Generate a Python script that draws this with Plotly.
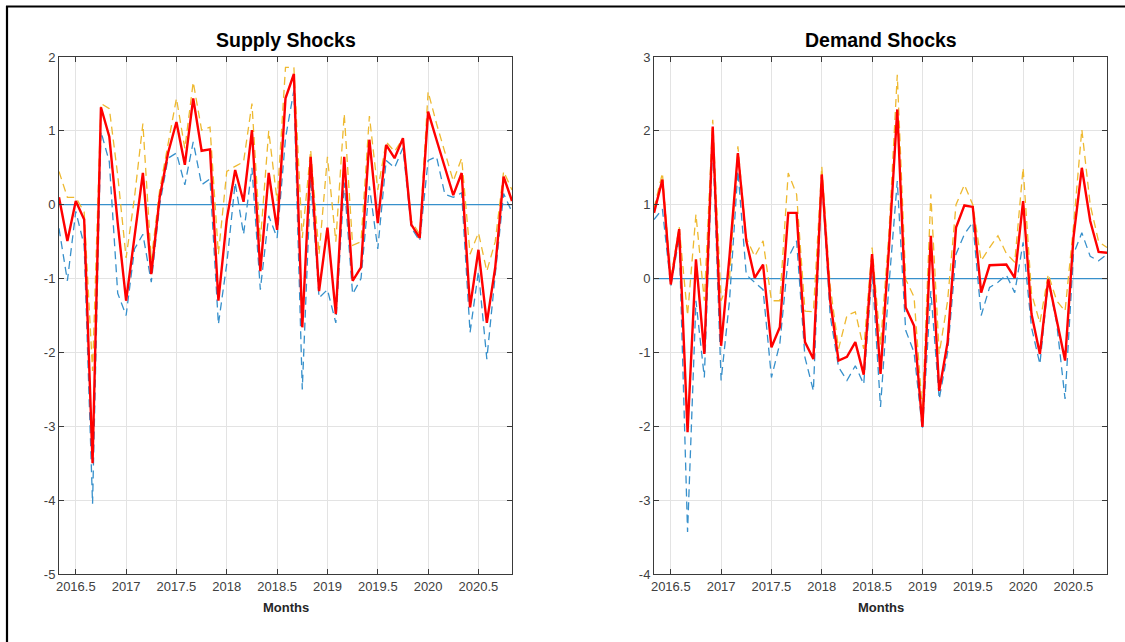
import pandas as pd
import plotly.graph_objects as go

# Monthly sample, May 2016 - Nov 2020, expressed as decimal years
months = pd.date_range("2016-05-01", periods=55, freq="MS")
t = [d.year + (d.month - 1) / 12 for d in months]

# Supply shocks: median estimate with upper / lower bands
supply_median = [0.1, -0.49, 0.05, -0.2, -3.5, 1.32, 0.92, -0.25, -1.3, -0.45,
                 0.43, -0.94, 0.1, 0.7, 1.12, 0.54, 1.44, 0.73, 0.75, -1.3,
                 -0.2, 0.47, 0.04, 1.01, -0.9, 0.43, -0.34, 1.44, 1.77, -1.66,
                 0.65, -1.17, -0.31, -1.48, 0.65, -1.03, -0.85, 0.88, -0.25, 0.81,
                 0.63, 0.9, -0.27, -0.45, 1.26, 0.88, 0.5, 0.13, 0.43, -1.39,
                 -0.61, -1.6, -0.85, 0.38, 0.05]
supply_upper = [0.45, 0.1, 0.1, -0.1, -2.25, 1.37, 1.3, 0.4, -0.72, 0.1,
                1.1, -0.75, 0.2, 0.8, 1.44, 0.76, 1.66, 1.01, 1.05, -0.67,
                0.45, 0.52, 0.58, 1.37, -0.5, 1.0, 0.05, 1.86, 1.86, -0.45,
                0.74, -0.67, 0.65, -0.5, 1.23, -0.55, -0.5, 1.2, 0.2, 0.85,
                0.72, 0.9, -0.22, -0.4, 1.53, 1.1, 0.72, 0.32, 0.63, -0.67,
                -0.38, -0.9, -0.5, 0.45, 0.2]
supply_lower = [-0.32, -1.03, -0.09, -0.55, -4.05, 0.99, 0.58, -1.2, -1.5, -0.6,
                -0.4, -1.05, 0.0, 0.63, 0.7, 0.27, 0.85, 0.27, 0.35, -1.62,
                -0.8, 0.3, -0.4, 0.5, -1.15, -0.15, -0.45, 0.9, 1.55, -2.5,
                0.35, -1.26, -1.15, -1.6, 0.3, -1.21, -1.0, 0.25, -0.6, 0.6,
                0.5, 0.77, -0.31, -0.49, 0.6, 0.65, 0.14, 0.1, 0.16, -1.73,
                -0.9, -2.09, -0.95, 0.15, -0.1]

# Demand shocks: median estimate with upper / lower bands
demand_median = [0.89, 1.34, -0.08, 0.67, -2.08, 0.26, -1.02, 2.06, -0.91, 0.3,
                 1.7, 0.51, 0.01, 0.19, -0.93, -0.66, 0.89, 0.89, -0.86, -1.09,
                 1.41, -0.3, -1.11, -1.06, -0.86, -1.3, 0.33, -1.29, 0.4, 2.29,
                 -0.39, -0.64, -2.01, 0.58, -1.52, -0.86, 0.69, 0.99, 0.97, -0.19,
                 0.18, 0.19, 0.19, 0.01, 1.05, -0.48, -1.02, -0.01, -0.57, -1.11,
                 0.55, 1.5, 0.78, 0.36, 0.35]
demand_upper = [0.95, 1.43, 0.0, 0.7, -0.5, 0.87, -0.3, 2.15, -0.3, 0.0,
                1.79, 0.55, 0.3, 0.51, -0.3, -0.3, 1.43, 1.14, -0.44, -0.45,
                1.52, -0.1, -0.95, -0.5, -0.45, -0.95, 0.42, -0.9, 0.6, 2.76,
                -0.01, -0.25, -1.8, 1.14, -1.02, -0.3, 1.0, 1.27, 1.0, 0.24,
                0.42, 0.58, 0.34, 0.22, 1.5, -0.2, -0.6, 0.06, -0.3, -0.44,
                0.7, 2.02, 1.0, 0.5, 0.42]
demand_lower = [0.8, 0.94, -0.1, 0.55, -3.43, -0.3, -1.34, 1.85, -1.38, -0.3,
                1.46, 0.05, -0.05, -0.15, -1.34, -0.88, 0.28, 0.51, -1.07, -1.52,
                1.37, -0.5, -1.2, -1.38, -1.18, -1.43, 0.1, -1.74, -0.1, 1.32,
                -0.7, -1.0, -2.05, -0.17, -1.63, -1.0, 0.33, 0.6, 0.76, -0.5,
                -0.12, -0.05, 0.05, -0.19, 0.49, -0.66, -1.16, -0.03, -0.6, -1.63,
                0.33, 0.62, 0.3, 0.24, 0.33]

x_ticks = [2016.5, 2017, 2017.5, 2018, 2018.5, 2019, 2019.5, 2020, 2020.5]
x_tick_labels = ["2016.5", "2017", "2017.5", "2018", "2018.5", "2019", "2019.5", "2020", "2020.5"]
supply_yticks = [-5, -4, -3, -2, -1, 0, 1, 2]
supply_ytick_labels = ["-5", "-4", "-3", "-2", "-1", "0", "1", "2"]
demand_yticks = [-4, -3, -2, -1, 0, 1, 2, 3]
demand_ytick_labels = ["-4", "-3", "-2", "-1", "0", "1", "2", "3"]

W, H = 1125, 642
FONT = "Liberation Sans, Arial, Helvetica, sans-serif"
BLUE = "#3790cb"
YELLOW = "#EEB930"
RED = "#FF0000"
AXIS_COL = "#3a3a3a"
GRID_COL = "#e3e3e3"
DASH = "8px,5px"

fig = go.Figure()


def add_panel(xa, ya, median, upper, lower):
    fig.add_trace(go.Scatter(x=t, y=[0] * len(t), mode="lines",
                             line=dict(color=BLUE, width=1.3),
                             xaxis=xa, yaxis=ya, showlegend=False, hoverinfo="skip"))
    fig.add_trace(go.Scatter(x=t, y=lower, mode="lines",
                             line=dict(color=BLUE, width=1.3, dash=DASH),
                             xaxis=xa, yaxis=ya, showlegend=False))
    fig.add_trace(go.Scatter(x=t, y=upper, mode="lines",
                             line=dict(color=YELLOW, width=1.3, dash=DASH),
                             xaxis=xa, yaxis=ya, showlegend=False))
    fig.add_trace(go.Scatter(x=t, y=median, mode="lines",
                             line=dict(color=RED, width=2.4),
                             xaxis=xa, yaxis=ya, showlegend=False))


add_panel("x", "y", supply_median, supply_upper, supply_lower)
add_panel("x2", "y2", demand_median, demand_upper, demand_lower)

# plot-area geometry (pixels)
L1, R1 = 59, 512
L2, R2 = 654, 1107
TOP, BOT = 57, 574

common_x = dict(range=[t[0], t[-1]], tickmode="array", tickvals=x_ticks,
                ticktext=x_tick_labels, showgrid=True, gridcolor=GRID_COL, gridwidth=1,
                zeroline=False, showline=True, linecolor=AXIS_COL, linewidth=1,
                mirror="ticks", ticks="inside", ticklen=5, tickcolor=AXIS_COL,
                automargin=False,
                tickfont=dict(family=FONT, size=13, color="#404040"))
common_y = dict(showgrid=True, gridcolor=GRID_COL, gridwidth=1, zeroline=False,
                showline=True, linecolor=AXIS_COL, linewidth=1, mirror="ticks",
                ticks="inside", ticklen=5, tickcolor=AXIS_COL, tickmode="array",
                automargin=False,
                tickfont=dict(family=FONT, size=13, color="#404040"))

ydom = [1 - BOT / H, 1 - TOP / H]
fig.update_layout(
    width=W, height=H, autosize=False,
    margin=dict(l=0, r=0, t=0, b=0, pad=0, autoexpand=False),
    paper_bgcolor="white", plot_bgcolor="white",
    xaxis=dict(domain=[L1 / W, R1 / W], anchor="y", **common_x),
    yaxis=dict(domain=ydom, anchor="x", range=[-5, 2], tickvals=supply_yticks,
               ticktext=supply_ytick_labels, **common_y),
    xaxis2=dict(domain=[L2 / W, R2 / W], anchor="y2", **common_x),
    yaxis2=dict(domain=ydom, anchor="x2", range=[-4, 3], tickvals=demand_yticks,
                ticktext=demand_ytick_labels, **common_y),
)

titles = [("Supply Shocks", (L1 + R1) / 2), ("Demand Shocks", (L2 + R2) / 2)]
for text, cx in titles:
    fig.add_annotation(x=cx / W, y=1 - 40 / H, xref="paper", yref="paper",
                       text=f"<b>{text}</b>", showarrow=False,
                       font=dict(family=FONT, size=19.5, color="black"),
                       xanchor="center", yanchor="middle")
    fig.add_annotation(x=cx / W, y=1 - 607 / H, xref="paper", yref="paper",
                       text="<b>Months</b>", showarrow=False,
                       font=dict(family=FONT, size=13, color="#262626"),
                       xanchor="center", yanchor="middle")

# outer frame (top and left edges)
fig.add_shape(type="line", xref="paper", yref="paper",
              x0=6 / W, x1=1.0, y0=1 - 6.5 / H, y1=1 - 6.5 / H,
              line=dict(color="black", width=2.2))
fig.add_shape(type="line", xref="paper", yref="paper",
              x0=7 / W, x1=7 / W, y0=0, y1=1 - 6 / H,
              line=dict(color="black", width=2.2))

fig.write_html("out.html",
               post_script="document.body.style.margin='0';"
                           "document.body.style.overflow='hidden';")
